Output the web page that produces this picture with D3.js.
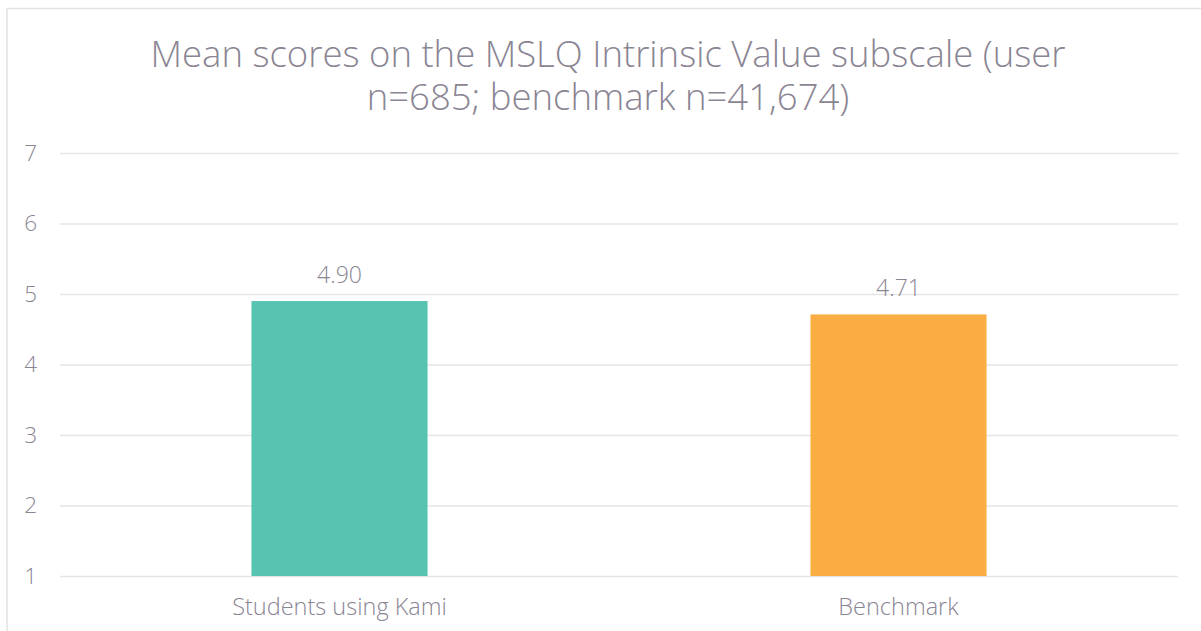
<!DOCTYPE html>
<html>
<head>
<meta charset="utf-8">
<script src="https://cdn.jsdelivr.net/npm/d3@7"></script>
<style>
  body { margin: 0; background: #fff; }
  svg text { font-family: "Open Sans", Lato, sans-serif; fill: #8a8593; }
</style>
</head>
<body>
<svg id="chart" width="1201" height="631"></svg>
<script>
const categories = ["Students using Kami", "Benchmark"];
const scores = [4.90, 4.71];
const barColors = ["#57c3b1", "#f9ad42"];
const yTicks = [1, 2, 3, 4, 5, 6, 7];
const titleLines = ["Mean scores on the MSLQ Intrinsic Value subscale (user", "n=685; benchmark n=41,674)"];

const svg = d3.select("#chart");
const margin = { top: 153, right: 23, bottom: 55, left: 60 };
const width = 1201 - margin.left - margin.right,
  height = 631 - margin.top - margin.bottom;

// chart frame
svg.append("rect")
  .attr("x", 7).attr("y", 8.5)
  .attr("width", 1220).attr("height", 640)
  .attr("fill", "none")
  .attr("stroke", "#e2e2e2")
  .attr("stroke-width", 1.5);

svg.append("text")
  .attr("x", 608)
  .attr("y", 67)
  .attr("text-anchor", "middle")
  .attr("font-size", "36.5px")
  .attr("font-weight", 300)
  .selectAll("tspan")
  .data(titleLines)
  .enter()
  .append("tspan")
  .attr("x", 608)
  .attr("dy", (d, i) => (i === 0 ? 0 : 43))
  .text((d) => d);

const g = svg.append("g")
  .attr("transform", "translate(" + margin.left + "," + margin.top + ")");

let x = d3.scaleBand().domain(categories).range([0, width])
    .paddingInner(0.685).paddingOuter(0.3425),
  y = d3.scaleLinear().domain([1, 7]).range([height, 0]);

// gridlines + y labels
const yAxis = g.append("g")
  .attr("class", "axis axis--y")
  .call(d3.axisLeft(y).tickValues(yTicks).tickSize(-width).tickPadding(23).tickFormat(d3.format("d")));
yAxis.select(".domain").remove();
yAxis.selectAll("line").attr("stroke", "#e5e5e5").attr("stroke-width", 1.5);
yAxis.selectAll("text")
  .attr("font-size", "22.5px")
  .attr("font-weight", 300)
  .style("font-family", "'Open Sans', sans-serif")
  .attr("fill", "#8a8593");

const xAxis = g.append("g")
  .attr("class", "axis axis--x")
  .attr("transform", "translate(0," + height + ")")
  .call(d3.axisBottom(x).tickSize(0).tickPadding(22));
xAxis.select(".domain").remove();
xAxis.selectAll("text")
  .attr("font-size", "23.5px")
  .attr("font-weight", 300)
  .style("font-family", "'Open Sans', sans-serif")
  .attr("fill", "#8a8593");

// bars
const bars = g.selectAll(".bar").data(categories).enter().append("g");
bars.append("rect")
  .attr("class", "bar")
  .attr("x", (d) => x(d))
  .attr("y", (d, i) => y(scores[i]))
  .attr("width", x.bandwidth())
  .attr("height", (d, i) => height - y(scores[i]))
  .attr("fill", (d, i) => barColors[i]);

bars.append("text")
  .text((d, i) => scores[i].toFixed(2))
  .attr("x", (d) => x(d) + x.bandwidth() / 2)
  .attr("y", (d, i) => y(scores[i]) - 18)
  .attr("font-size", "23px")
  .attr("font-weight", 300)
  .attr("text-anchor", "middle");
</script>
</body>
</html>
